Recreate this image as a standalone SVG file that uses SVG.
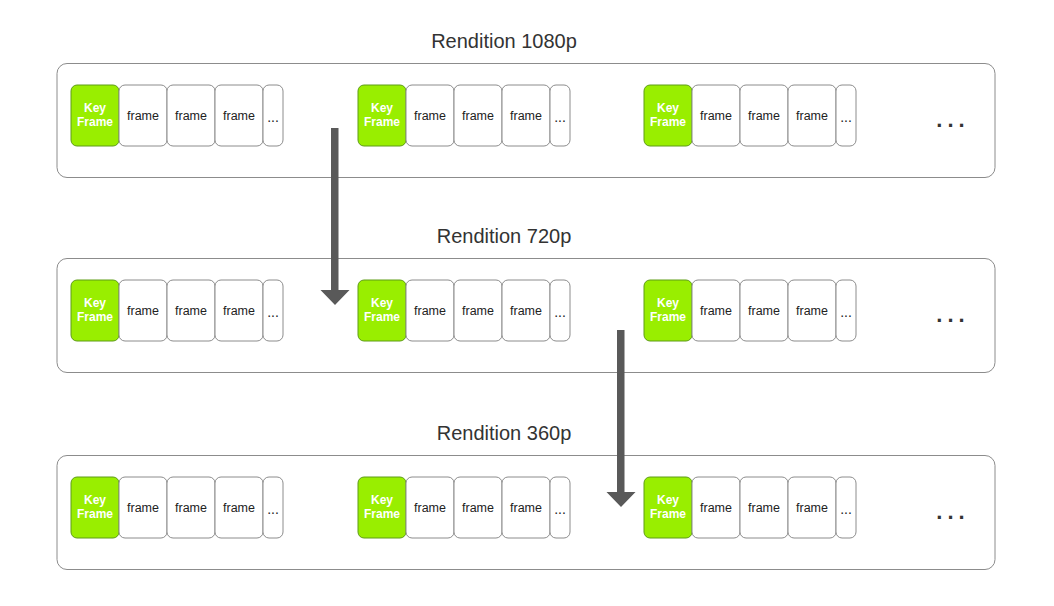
<svg xmlns="http://www.w3.org/2000/svg" width="1054" height="606" viewBox="0 0 1054 606">
<style>
.row{fill:#fff;stroke:#8c8c8c;stroke-width:1}
.kf{fill:#99ee00;stroke:#5e9c17;stroke-width:1}
.fr{fill:#fff;stroke:#8c8c8c;stroke-width:1}
.title{font-family:"Liberation Sans",Arial,sans-serif;font-size:20px;fill:#333;text-anchor:middle}
.kt{font-family:"Liberation Sans",Arial,sans-serif;font-size:12px;font-weight:bold;fill:#fff;text-anchor:middle}
.ft{font-family:"Liberation Sans",Arial,sans-serif;font-size:12.5px;fill:#222;text-anchor:middle}
.dt{font-family:"Liberation Sans",Arial,sans-serif;font-size:14px;fill:#222;text-anchor:middle}
.big{font-family:"Liberation Sans",Arial,sans-serif;font-size:22px;font-weight:bold;fill:#333;text-anchor:middle;letter-spacing:5px}
.arrow{fill:#595959}
</style>
<defs>
<g id="gop">
<rect class="kf" x="0" y="0" width="48" height="61" rx="6"/>
<text class="kt" x="24" y="27">Key</text>
<text class="kt" x="24" y="41">Frame</text>
<rect class="fr" x="48" y="0" width="48" height="61" rx="6"/>
<text class="ft" x="72" y="35">frame</text>
<rect class="fr" x="96" y="0" width="48" height="61" rx="6"/>
<text class="ft" x="120" y="35">frame</text>
<rect class="fr" x="144" y="0" width="48" height="61" rx="6"/>
<text class="ft" x="168" y="35">frame</text>
<rect class="fr" x="192" y="0" width="20" height="61" rx="6"/>
<text class="dt" x="202" y="37">...</text>
</g>
</defs>

<g id="rendition-1080p">
<text class="title" x="504" y="48">Rendition 1080p</text>
<rect class="row" x="57" y="63.5" width="938" height="114" rx="10"/>
<use href="#gop" x="71" y="85"/>
<use href="#gop" x="358" y="85"/>
<use href="#gop" x="644" y="85"/>
<text class="big" x="953" y="127">...</text>
</g>

<g id="rendition-720p">
<text class="title" x="504" y="243">Rendition 720p</text>
<rect class="row" x="57" y="258.5" width="938" height="114" rx="10"/>
<use href="#gop" x="71" y="280"/>
<use href="#gop" x="358" y="280"/>
<use href="#gop" x="644" y="280"/>
<text class="big" x="953" y="322">...</text>
</g>

<g id="rendition-360p">
<text class="title" x="504" y="440">Rendition 360p</text>
<rect class="row" x="57" y="455.5" width="938" height="114" rx="10"/>
<use href="#gop" x="71" y="477"/>
<use href="#gop" x="358" y="477"/>
<use href="#gop" x="644" y="477"/>
<text class="big" x="953" y="519">...</text>
</g>

<g id="connectors">
<polygon class="arrow" points="331,128 338.5,128 338.5,290 349.5,290 335,305 320.5,290 331,290"/>
<polygon class="arrow" points="617,330 624.5,330 624.5,492 635.5,492 621,507 606.5,492 617,492"/>
</g>
</svg>
